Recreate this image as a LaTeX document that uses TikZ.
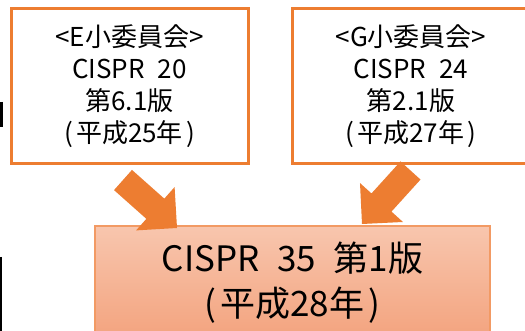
\documentclass[tikz,border=0pt]{standalone}
\usepackage{fontspec}
\setmainfont{Noto Sans CJK JP}
\usetikzlibrary{calc}
\definecolor{ofc}{HTML}{ED7D31}
\definecolor{lightborder}{HTML}{F29A64}
\definecolor{shtop}{HTML}{F8C6AE}
\definecolor{shbot}{HTML}{F3A37E}
\tikzset{
  topbox/.style={draw=ofc, line width=3pt, fill=white, rectangle, inner sep=0pt,
    minimum width=237pt, minimum height=155pt, align=center,
    font=\fontsize{26}{32}\selectfont},
  bottombox/.style={draw=lightborder, line width=1.5pt, rectangle, inner sep=0pt,
    top color=shtop, bottom color=shbot, minimum width=395pt, minimum height=113pt,
    align=center, font=\fontsize{35}{45}\selectfont},
  arrowfill/.style={fill=ofc},
  fragment/.style={draw=black}
}
\newcommand\hsp{\hspace{0.5em}}
\newcommand\lp{\kern0.12em(\kern0.12em}
\newcommand\rp{\kern0.12em)\kern0.12em}
\newcommand\blockarrow[2]{%
  \coordinate (#1-b) at ($(#2)!29pt!(#1)$);
  \fill[arrowfill] ($(#1)!13.5pt!90:(#2)$) -- ($(#1-b)!13.5pt!-90:(#1)$)
    -- ($(#1-b)!29pt!-90:(#1)$) -- (#2) -- ($(#1-b)!29pt!90:(#1)$)
    -- ($(#1-b)!13.5pt!90:(#1)$) -- ($(#1)!13.5pt!-90:(#2)$) -- cycle;
}
\begin{document}
\begin{tikzpicture}[x=1pt,y=-1pt]
\useasboundingbox (0,0) rectangle (525,331);
\clip (0,0) rectangle (525,331);
\fill[white] (0,0) rectangle (525,331);

% cut-off fragments at the left edge
\draw[fragment, line width=3pt] (1.5,102) coordinate (f1a) -- (1.5,127) coordinate (f1b);
\draw[fragment, line width=2pt] (1,257) coordinate (f2a) -- (1,340) coordinate (f2b);

% boxes
\node[topbox] (e) at (129.5,86) {<E小委員会>\\CISPR\hsp 20\\第6.1版\\\lp 平成25年\rp};
\node[topbox, minimum width=238pt] (g) at (411,86) {<G小委員会>\\CISPR\hsp 24\\第2.1版\\\lp 平成27年\rp};
\node[bottombox] (c) at (292.5,282.5) {CISPR\hsp 35\hsp 第1版\\\lp 平成28年\rp};

% block arrows
\coordinate (la) at (123,180);
\coordinate (lt) at (177,228);
\coordinate (ra) at (410.5,170.5);
\coordinate (rt) at (362,224);
\blockarrow{la}{lt}
\blockarrow{ra}{rt}
\end{tikzpicture}
\end{document}
